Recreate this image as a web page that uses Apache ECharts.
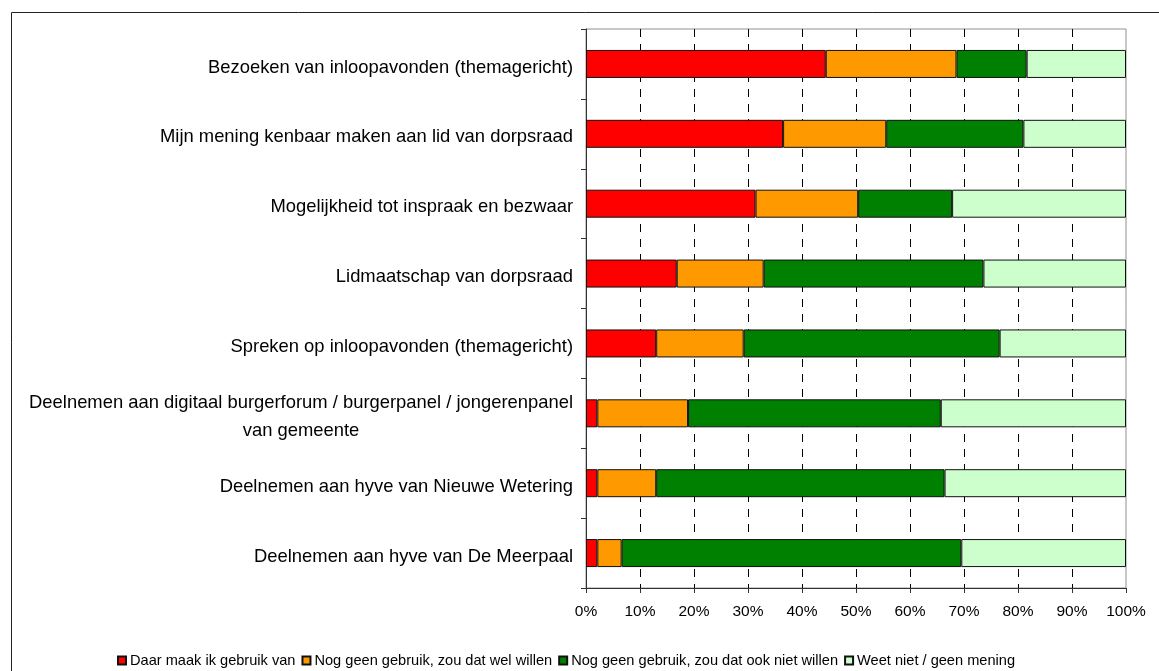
<!DOCTYPE html>
<html>
<head>
<meta charset="utf-8">
<script src="https://cdn.jsdelivr.net/npm/echarts@6/dist/echarts.min.js"></script>
<style>
  html, body { margin: 0; padding: 0; background: #fff; }
  #chart { width: 1159px; height: 671px; }
</style>
</head>
<body>
<div id="chart"></div>
<script>
var categories = [
    'Bezoeken van inloopavonden (themagericht)',
    'Mijn mening kenbaar maken aan lid van dorpsraad',
    'Mogelijkheid tot inspraak en bezwaar',
    'Lidmaatschap van dorpsraad',
    'Spreken op inloopavonden (themagericht)',
    'Deelnemen aan digitaal burgerforum / burgerpanel / jongerenpanel\nvan gemeente',
    'Deelnemen aan hyve van Nieuwe Wetering',
    'Deelnemen aan hyve van De Meerpaal'
];
var seriesNames = [
    'Daar maak ik gebruik van',
    'Nog geen gebruik, zou dat wel willen',
    'Nog geen gebruik, zou dat ook niet willen',
    'Weet niet / geen mening'
];
var gebruik    = [44.4, 36.5, 31.4, 16.8, 13.0, 2.1, 2.1, 2.1];
var welWillen  = [24.2, 19.1, 19.0, 16.1, 16.2, 16.8, 10.9, 4.5];
var nietWillen = [13.0, 25.4, 17.4, 40.7, 47.4, 46.8, 53.4, 62.9];
var weetNiet   = [18.4, 19.0, 32.2, 26.4, 23.4, 34.3, 33.6, 30.5];
var tickLabels = ['0%', '10%', '20%', '30%', '40%', '50%', '60%', '70%', '80%', '90%', '100%'];

var colors = ['#ff0000', '#ff9900', '#008000', '#ccffcc'];
var values = [gebruik, welWillen, nietWillen, weetNiet];
var labelSize = 18.4;

// breedte van de eerste regel meten, zodat de tweede regel gecentreerd staat
var ctx = document.createElement('canvas').getContext('2d');
ctx.font = labelSize + 'px "Liberation Sans"';

var chart = echarts.init(document.getElementById('chart'));

var series = seriesNames.map(function(name, i) {
    return {
        name: name,
        type: 'bar',
        stack: 'totaal',
        barWidth: 28,
        data: values[i],
        itemStyle: { color: colors[i], borderColor: '#111', borderWidth: 1 }
    };
});

chart.setOption({
    animation: false,
    textStyle: { fontFamily: '"Liberation Sans", Arial, sans-serif' },
    graphic: [{
        type: 'rect',
        shape: { x: 11.5, y: 12.5, width: 1200, height: 700 },
        style: { fill: 'none', stroke: '#222', lineWidth: 1 },
        silent: true
    }],
    grid: {
        left: 586, right: 33, top: 29, bottom: 83,
        show: true, borderColor: '#909090', borderWidth: 1
    },
    legend: {
        top: 648,
        left: 112,
        itemWidth: 8,
        itemHeight: 8,
        itemGap: 6,
        icon: 'rect',
        textStyle: { fontSize: 14.6, color: '#000', padding: [0, 0, 0, -1] },
        data: seriesNames
    },
    xAxis: {
        type: 'value',
        min: 0, max: 100, interval: 10,
        axisLine: { show: true, lineStyle: { color: '#333' } },
        axisTick: { show: true, length: 5, lineStyle: { color: '#333' } },
        axisLabel: {
            margin: 16, fontSize: 15.5, color: '#000',
            formatter: function(v) { return tickLabels[Math.round(v / 10)]; }
        },
        splitLine: {
            show: true,
            lineStyle: {
                color: ['rgba(0,0,0,0)', '#000', '#000', '#000', '#000', '#000',
                        '#000', '#000', '#000', '#000', 'rgba(0,0,0,0)'],
                type: [8, 7], width: 1
            }
        }
    },
    yAxis: {
        type: 'category',
        inverse: true,
        data: categories,
        axisLine: { show: true, lineStyle: { color: '#333' } },
        axisTick: { show: true, length: 5, lineStyle: { color: '#333' } },
        axisLabel: {
            margin: 13, fontSize: labelSize, color: '#000', lineHeight: 28,
            padding: [7, 0, 0, 0],
            formatter: function(v) {
                if (v.indexOf('\n') < 0) return v;
                return v.split('\n').map(function(s) { return '{c|' + s + '}'; }).join('\n');
            },
            rich: {
                c: {
                    fontSize: labelSize, lineHeight: 28, align: 'center',
                    width: ctx.measureText(categories[5].split('\n')[0]).width
                }
            }
        }
    },
    series: series
});
</script>
</body>
</html>
